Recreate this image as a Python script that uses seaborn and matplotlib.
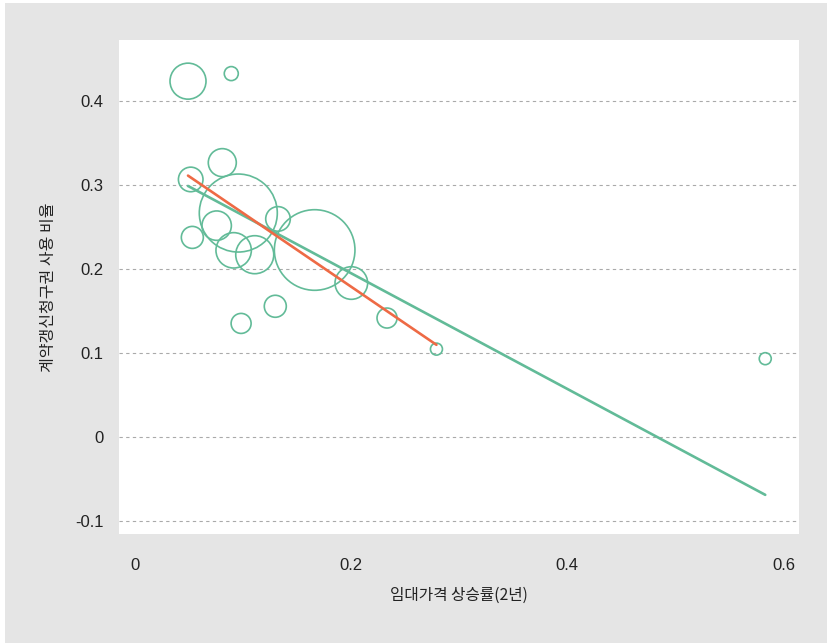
import numpy as np
import pandas as pd
import matplotlib
matplotlib.use("Agg")
import matplotlib.pyplot as plt
from matplotlib.patches import Rectangle
import seaborn as sns

# ---- data ----
rent_growth = [0.0493, 0.0893, 0.081, 0.0518, 0.0958, 0.1325, 0.0758, 0.0533, 0.0915,
               0.111, 0.1664, 0.2003, 0.130, 0.0984, 0.2333, 0.279, 0.583]
renewal_ratio = [0.424, 0.433, 0.327, 0.307, 0.267, 0.260, 0.252, 0.238, 0.2226,
                 0.2174, 0.223, 0.1837, 0.156, 0.1356, 0.142, 0.105, 0.0936]
bubble_weight = [324, 49, 196, 151, 1521, 151, 216, 121, 313,
                 361, 1624, 266, 121, 100, 100, 36, 36]
outlier_cut = 0.5          # points above this x are excluded from the second fit
fit_all = [0.3332, -0.689]      # intercept, slope (all regions)
fit_excl = [0.3548, -0.877]     # intercept, slope (excluding outlier)

x_ticks = [0, 0.2, 0.4, 0.6]
x_ticklabels = ["0", "0.2", "0.4", "0.6"]
y_ticks = [-0.1, 0, 0.1, 0.2, 0.3, 0.4]
y_ticklabels = ["-0.1", "0", "0.1", "0.2", "0.3", "0.4"]
x_label = "임대가격 상승률(2년)"
y_label = "계약갱신청구권 사용 비율"

GREEN = "#62bb98"
ORANGE = "#ee6a45"
GRAY_BG = "#e5e5e5"
TEXT = "#222222"

sns.set_theme(style="white")
plt.rcParams["font.family"] = ["Noto Sans CJK KR", "DejaVu Sans"]
plt.rcParams["axes.unicode_minus"] = False

df = pd.DataFrame({"x": rent_growth, "y": renewal_ratio, "w": bubble_weight})

fig = plt.figure(figsize=(8.27, 6.43), dpi=100, facecolor="white")
bg = Rectangle((5 / 827, 0), 1 - 5 / 827, 1 - 3 / 643,
               transform=fig.transFigure, facecolor=GRAY_BG,
               edgecolor="none", zorder=-10)
fig.patches.append(bg)
ax = fig.add_axes([119 / 827, (643 - 534) / 643, 680 / 827, 494 / 643])
ax.set_zorder(1)
ax.set_facecolor("white")

# px radius r -> s = (1.44 r)^2 ; weight = r^2
wmin, wmax = min(bubble_weight), max(bubble_weight)
k = 1.44 ** 2
sns.scatterplot(data=df, x="x", y="y", size="w", sizes=(k * wmin, k * wmax),
                size_norm=(wmin, wmax), legend=False, ax=ax,
                facecolors="none", edgecolor=GREEN, linewidth=1.2, zorder=3)
for c in ax.collections:
    c.set_facecolor("none")
    c.set_edgecolor(GREEN)

xa = np.array([df["x"].min(), df["x"].max()])
sns.lineplot(x=xa, y=fit_all[0] + fit_all[1] * xa, color=GREEN, linewidth=1.9,
             ax=ax, zorder=4)
sub = df[df["x"] < outlier_cut]
xb = np.array([sub["x"].min(), sub["x"].max()])
sns.lineplot(x=xb, y=fit_excl[0] + fit_excl[1] * xb, color=ORANGE, linewidth=1.9,
             ax=ax, zorder=5)

ax.set_xlim(-0.0145, 0.6142)
ax.set_ylim(-0.1151, 0.473)
ax.set_xticks(x_ticks)
ax.set_xticklabels(x_ticklabels, family=["Liberation Sans", "DejaVu Sans"])
ax.set_yticks(y_ticks)
ax.set_yticklabels(y_ticklabels, family=["Liberation Sans", "DejaVu Sans"])
ax.tick_params(axis="both", length=0, labelsize=12, colors=TEXT)
ax.tick_params(axis="x", pad=17)
ax.tick_params(axis="y", pad=11)
ax.yaxis.grid(True, color="#aaaaaa", linestyle=(0, (3, 3)), linewidth=0.8)
ax.xaxis.grid(False)
for s in ax.spines.values():
    s.set_visible(False)
ax.set_xlabel(x_label, fontsize=11.3, color=TEXT, labelpad=10)
ax.set_ylabel(y_label, fontsize=11.5, color=TEXT, labelpad=13)

fig.savefig("out.png", dpi=100, facecolor="white")
